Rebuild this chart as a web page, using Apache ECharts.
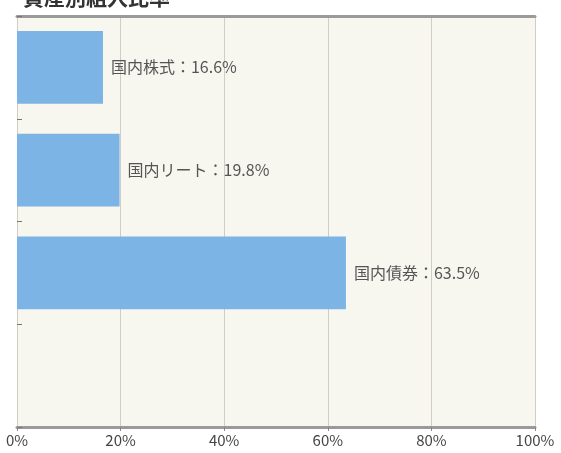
<!DOCTYPE html>
<html>
<head>
<meta charset="utf-8">
<script src="https://cdn.jsdelivr.net/npm/echarts@6/dist/echarts.min.js"></script>
<style>
html,body{margin:0;padding:0;background:#fff;}
#c{width:561px;height:453px;}
</style>
</head>
<body>
<div id="c"></div>
<script>
const categories = ['国内株式', '国内リート', '国内債券', ''];
const values = [16.6, 19.8, 63.5, null];
const xTicks = ['0%', '20%', '40%', '60%', '80%', '100%'];
const titleText = '・資産別組入比率';

const chart = echarts.init(document.getElementById('c'), null, {renderer: 'canvas'});
const font = '"Noto Sans CJK JP", "Noto Sans", sans-serif';
chart.setOption({
  animation: false,
  backgroundColor: '#ffffff',
  graphic: [{
    type: 'text', left: 2, top: -13,
    style: {text: titleText, font: 'bold 21px "Noto Sans CJK JP"', fill: '#333'}
  }],
  grid: {left: 17, right: 26, top: 16, bottom: 26, show: true, backgroundColor: '#f7f6ef', borderWidth: 0},
  xAxis: [{
    type: 'value', min: 0, max: 100, interval: 20, position: 'bottom',
    axisLine: {show: true, lineStyle: {color: '#9a9a9a', width: 3}},
    axisTick: {show: true, length: 4, lineStyle: {color: '#888'}},
    axisLabel: {
      color: '#444', fontSize: 15, fontFamily: font, margin: 6,
      formatter: function (v) { return xTicks[Math.round(v / 20)]; }
    },
    splitLine: {show: true, lineStyle: {color: '#cfcdc6', width: 1}}
  }, {
    type: 'value', min: 0, max: 100, interval: 20, position: 'top',
    axisLine: {show: true, lineStyle: {color: '#9a9a9a', width: 3}},
    axisTick: {show: false}, axisLabel: {show: false}, splitLine: {show: false}
  }],
  yAxis: {
    type: 'category', data: categories, inverse: true,
    axisLine: {show: false},
    axisTick: {show: true, inside: true, length: 5, lineStyle: {color: '#777', width: 1}},
    axisLabel: {show: false},
    splitLine: {show: false}
  },
  series: [{
    type: 'bar', data: values, barWidth: '71%',
    itemStyle: {color: '#7bb4e5'},
    label: {
      show: true, position: 'right', distance: 8,
      color: '#555', fontSize: 16, fontFamily: font,
      formatter: function (p) { return p.name + '：' + p.value.toFixed(1) + '%'; }
    }
  }]
});
</script>
</body>
</html>
